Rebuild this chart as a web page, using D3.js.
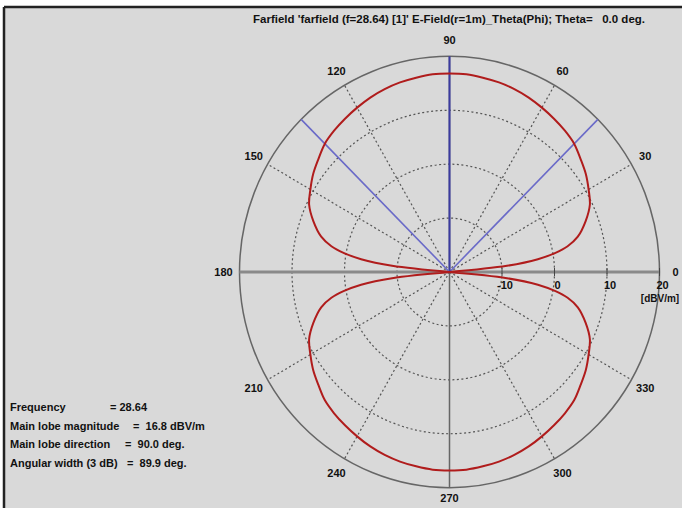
<!DOCTYPE html>
<html>
<head>
<meta charset="utf-8">
<script src="https://cdn.jsdelivr.net/npm/d3@7"></script>
<style>
  body { margin: 0; background: #fff; }
  svg text { font-family: "Liberation Sans", Arial, sans-serif; font-weight: bold; fill: #111; }
</style>
</head>
<body>
<svg id="chart" width="682" height="508"></svg>
<script>
// === DATA ===
// angle in degrees (phi), farfield value in dBV/m
const phiAngles = [
  0, 4, 6, 8, 10, 12, 15, 20, 25, 30, 35, 40, 45, 50, 55, 60, 65, 70, 75, 80, 85, 90,
  95, 100, 105, 110, 115, 120, 125, 130, 135, 140, 145, 150, 155, 160, 165, 168, 170, 172, 174, 176, 180,
  184, 186, 188, 190, 192, 195, 200, 205, 210, 215, 220, 225, 230, 235, 240, 245, 250, 255, 260, 265, 270,
  275, 280, 285, 290, 295, 300, 305, 310, 315, 320, 325, 330, 335, 340, 345, 348, 350, 352, 354, 356, 360
];
const fieldValues = [
  -40, -20, -9, -3, 0.5, 3, 5.3, 7.6, 9.5, 10.6, 11.7, 12.6, 13.6, 14.2, 14.7, 15.2, 15.7, 16.1, 16.4, 16.6, 16.8, 16.8,
  16.8, 16.6, 16.4, 16.1, 15.7, 15.2, 14.7, 14.2, 13.6, 12.6, 11.7, 10.6, 9.5, 7.6, 5.3, 3, 0.5, -3, -9, -20, -40,
  -20, -9, -3, 0.5, 3, 5.3, 7.6, 9.5, 10.6, 11.7, 12.6, 13.6, 14.2, 14.7, 15.2, 15.7, 16.1, 16.4, 16.6, 16.8, 16.8,
  16.8, 16.6, 16.4, 16.1, 15.7, 15.2, 14.7, 14.2, 13.6, 12.6, 11.7, 10.6, 9.5, 7.6, 5.3, 3, 0.5, -3, -9, -20, -40
];
const ringValues = [-10, 0, 10];
const ringLabels = ["-10", "0", "10", "20"];
const spokeAngles = [30, 60, 120, 150, 210, 240, 300, 330];
const angleLabels = [0, 30, 60, 90, 120, 150, 180, 210, 240, 270, 300, 330];
const markerAngles = [45.05, 90, 134.95];   // main lobe direction and 3 dB limits
const titleText = "Farfield 'farfield (f=28.64) [1]' E-Field(r=1m)_Theta(Phi); Theta=   0.0 deg.";
const infoNames = ["Frequency", "Main lobe magnitude", "Main lobe direction", "Angular width (3 dB)"];
const infoValues = ["= 28.64", "=  16.8 dBV/m", "=  90.0 deg.", "=  89.9 deg."];

const svg = d3.select("#chart");
const width = +svg.attr("width");
const height = +svg.attr("height");

// === panel ===
svg.append("rect").attr("x", 4).attr("y", 7).attr("width", width).attr("height", height)
  .attr("fill", "#d9d9d9");
svg.append("line").attr("x1", 4).attr("x2", width).attr("y1", 7).attr("y2", 7)
  .attr("stroke", "#222").attr("stroke-width", 2.5);
svg.append("line").attr("x1", 4).attr("x2", 4).attr("y1", 7).attr("y2", height)
  .attr("stroke", "#222").attr("stroke-width", 2.5);

// === scales (plot is slightly stretched vertically) ===
const cx = 449.5, cy = 272;
const yStretch = 1.027;
const rScale = d3.scaleLinear().domain([-20, 20]).range([0, 210]).clamp(true);
const toXY = (deg, r) => {
  const a = deg * Math.PI / 180;
  return [cx + r * Math.cos(a), cy - r * Math.sin(a) * yStretch];
};

const g = svg.append("g");

// dotted rings
ringValues.forEach(v => {
  g.append("ellipse")
    .attr("cx", cx).attr("cy", cy)
    .attr("rx", rScale(v)).attr("ry", rScale(v) * yStretch)
    .attr("fill", "none").attr("stroke", "#555")
    .attr("stroke-width", 1.2).attr("stroke-dasharray", "2,2.5");
});

// dotted spokes
spokeAngles.forEach(a => {
  const [x, y] = toXY(a, rScale(20));
  g.append("line").attr("x1", cx).attr("y1", cy).attr("x2", x).attr("y2", y)
    .attr("stroke", "#555").attr("stroke-width", 1.2).attr("stroke-dasharray", "2,2.5");
});

// outer circle
g.append("ellipse")
  .attr("cx", cx).attr("cy", cy)
  .attr("rx", rScale(20)).attr("ry", rScale(20) * yStretch)
  .attr("fill", "none").attr("stroke", "#666").attr("stroke-width", 1.5);

// axes
const [x0] = toXY(0, rScale(20));
const [x180] = toXY(180, rScale(20));
const [, y90] = toXY(90, rScale(20));
const [, y270] = toXY(270, rScale(20));
g.append("line").attr("x1", x180).attr("x2", x0).attr("y1", cy).attr("y2", cy)
  .attr("stroke", "#8a8a8a").attr("stroke-width", 3);
g.append("line").attr("x1", cx).attr("x2", cx).attr("y1", y90).attr("y2", y270)
  .attr("stroke", "#666").attr("stroke-width", 1.5);

// small ticks on the 0 deg axis
ringValues.concat([20]).forEach(v => {
  g.append("line").attr("x1", cx + rScale(v)).attr("x2", cx + rScale(v))
    .attr("y1", cy - 4).attr("y2", cy + 4)
    .attr("stroke", "#444").attr("stroke-width", 1);
});

// blue marker lines
markerAngles.forEach(a => {
  const [x, y] = toXY(a, rScale(20));
  g.append("line").attr("x1", cx).attr("y1", cy).attr("x2", x).attr("y2", y)
    .attr("stroke", a === 90 ? "#3b3ba0" : "#6a6ac8")
    .attr("stroke-width", a === 90 ? 2 : 1.6);
});

// === pattern curve ===
const patternData = phiAngles.map((a, i) => ({ angle: a, value: fieldValues[i] }));
const patternLine = d3.line()
  .x(d => toXY(d.angle, rScale(d.value))[0])
  .y(d => toXY(d.angle, rScale(d.value))[1])
  .curve(d3.curveCatmullRom.alpha(0.5));
g.append("path")
  .datum(patternData)
  .attr("d", patternLine)
  .attr("fill", "none")
  .attr("stroke", "#b01c1c")
  .attr("stroke-width", 2);

// === labels ===
angleLabels.forEach(a => {
  const [x, y] = toXY(a, 226);
  svg.append("text").attr("x", x).attr("y", Math.min(y + 4, 502))
    .attr("text-anchor", "middle").attr("font-size", "11px")
    .text(a);
});

ringLabels.forEach(t => {
  svg.append("text").attr("x", cx + rScale(+t) + 3).attr("y", cy + 17)
    .attr("text-anchor", "middle").attr("font-size", "11px").text(t);
});
svg.append("text").attr("x", 660).attr("y", 302)
  .attr("text-anchor", "middle").attr("font-size", "10px").text("[dBV/m]");

svg.append("text").attr("x", 253).attr("y", 23)
  .attr("font-size", "10px")
  .attr("textLength", 392).attr("lengthAdjust", "spacingAndGlyphs")
  .style("white-space", "pre")
  .text(titleText);

const infoValueX = [110, 133, 125, 127];
infoNames.forEach((t, i) => {
  const y = 411 + i * 18.5;
  svg.append("text").attr("x", 10).attr("y", y).attr("font-size", "11px").text(t);
  svg.append("text").attr("x", infoValueX[i]).attr("y", y)
    .attr("font-size", "11px").style("white-space", "pre").text(infoValues[i]);
});
</script>
</body>
</html>
